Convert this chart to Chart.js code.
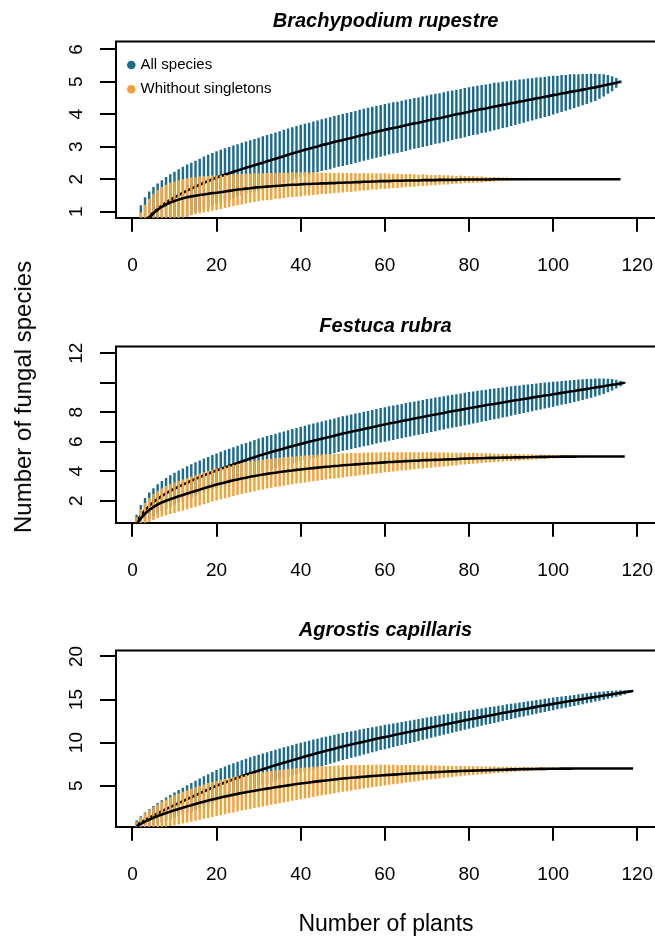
<!DOCTYPE html>
<html>
<head>
<meta charset="utf-8">
<script src="https://cdn.jsdelivr.net/npm/chart.js@4.4.1/dist/chart.umd.min.js"></script>
<style>
  body { margin: 0; background: #fff; width: 655px; height: 938px; overflow: hidden; position: relative;
         font-family: "Liberation Sans", Arial, sans-serif; color: #000; }
  .panel { position: absolute; left: 0; width: 655px; height: 305px; }
  #ytitle { position: absolute; left: 23px; top: 397px; transform: translate(-50%, -50%) rotate(-90deg);
            white-space: nowrap; font-size: 24px; }
  #xtitle { position: absolute; left: 386px; top: 923px; transform: translate(-50%, -50%);
            white-space: nowrap; font-size: 23px; }
</style>
</head>
<body>
<div class="panel" style="top:0px"><canvas id="c1"></canvas></div>
<div class="panel" style="top:305px"><canvas id="c2"></canvas></div>
<div class="panel" style="top:609px"><canvas id="c3"></canvas></div>
<div id="ytitle">Number of fungal species</div>
<div id="xtitle">Number of plants</div>
<script>
// tick labels
const xTicks = [0, 20, 40, 60, 80, 100, 120];
const brYTicks = [1, 2, 3, 4, 5, 6];
const frYTicks = [2, 4, 6, 8, 10, 12];
const frYLabels = [2, 4, 6, 8, 12];   // R dropped the "10" label
const acYTicks = [5, 10, 15, 20];

const legendNames = ['All species', 'Whithout singletons'];

// Brachypodium rupestre, 116 plants: mean richness and half-width of the bars
const brAllMean = [
  0.30,0.52,0.70,0.85,0.98,1.09,1.19,1.28,1.36,1.44,
  1.51,1.58,1.65,1.71,1.77,1.83,1.89,1.94,2.00,2.05,
  2.10,2.14,2.18,2.23,2.27,2.31,2.35,2.39,2.43,2.47,
  2.51,2.55,2.59,2.63,2.67,2.71,2.75,2.79,2.83,2.87,
  2.91,2.94,2.98,3.01,3.05,3.08,3.11,3.15,3.18,3.21,
  3.24,3.27,3.30,3.34,3.37,3.40,3.43,3.46,3.49,3.52,
  3.55,3.58,3.60,3.63,3.66,3.69,3.72,3.74,3.77,3.80,
  3.83,3.86,3.88,3.91,3.94,3.97,4.00,4.02,4.05,4.08,
  4.11,4.13,4.16,4.18,4.21,4.24,4.26,4.29,4.31,4.34,
  4.36,4.39,4.41,4.44,4.46,4.49,4.51,4.54,4.56,4.59,
  4.61,4.64,4.66,4.69,4.71,4.73,4.76,4.78,4.81,4.83,
  4.86,4.89,4.92,4.94,4.97,5.00];
const brAllCi = [
  0.45,0.68,0.74,0.77,0.78,0.78,0.78,0.79,0.79,0.79,
  0.80,0.80,0.80,0.80,0.80,0.80,0.81,0.81,0.81,0.81,
  0.81,0.81,0.81,0.81,0.81,0.81,0.81,0.81,0.81,0.81,
  0.81,0.81,0.81,0.81,0.81,0.81,0.81,0.81,0.81,0.81,
  0.80,0.80,0.80,0.80,0.80,0.80,0.80,0.80,0.80,0.80,
  0.80,0.80,0.80,0.80,0.80,0.80,0.80,0.80,0.80,0.80,
  0.79,0.79,0.79,0.79,0.79,0.78,0.78,0.78,0.78,0.78,
  0.78,0.77,0.77,0.77,0.77,0.76,0.76,0.76,0.76,0.75,
  0.75,0.75,0.74,0.74,0.73,0.73,0.72,0.71,0.71,0.70,
  0.69,0.68,0.67,0.66,0.65,0.64,0.63,0.62,0.61,0.60,
  0.58,0.57,0.55,0.54,0.52,0.50,0.48,0.46,0.44,0.42,
  0.38,0.34,0.29,0.23,0.15,0.04];
const brNsMean = [
  0.25,0.47,0.66,0.82,0.95,1.06,1.15,1.22,1.28,1.33,
  1.37,1.41,1.44,1.47,1.49,1.51,1.53,1.55,1.57,1.58,
  1.60,1.62,1.64,1.66,1.68,1.69,1.71,1.72,1.74,1.75,
  1.76,1.77,1.78,1.79,1.80,1.81,1.82,1.83,1.83,1.84,
  1.85,1.85,1.86,1.86,1.87,1.87,1.88,1.88,1.89,1.89,
  1.90,1.90,1.91,1.91,1.92,1.92,1.93,1.93,1.94,1.94,
  1.94,1.95,1.95,1.95,1.96,1.96,1.96,1.96,1.97,1.97,
  1.97,1.97,1.98,1.98,1.98,1.98,1.98,1.99,1.99,1.99,
  1.99,1.99,1.99,1.99,1.99,2.00,2.00,2.00,2.00,2.00,
  2.00,2.00,2.00,2.00,2.00,2.00,2.00,2.00,2.00,2.00,
  2.00,2.00,2.00,2.00,2.00,2.00,2.00,2.00,2.00,2.00,
  2.00,2.00,2.00,2.00,2.00,2.00];
const brNsCi = [
  0.43,0.50,0.55,0.58,0.60,0.61,0.61,0.61,0.61,0.60,
  0.60,0.59,0.59,0.58,0.57,0.57,0.56,0.55,0.54,0.53,
  0.52,0.51,0.50,0.49,0.48,0.47,0.46,0.45,0.44,0.43,
  0.42,0.42,0.41,0.40,0.40,0.39,0.38,0.38,0.37,0.37,
  0.36,0.35,0.35,0.34,0.33,0.33,0.32,0.31,0.31,0.30,
  0.29,0.29,0.28,0.27,0.27,0.26,0.25,0.25,0.24,0.24,
  0.23,0.22,0.22,0.21,0.20,0.20,0.19,0.18,0.18,0.17,
  0.16,0.16,0.15,0.14,0.14,0.13,0.12,0.12,0.11,0.10,
  0.10,0.09,0.09,0.08,0.07,0.07,0.06,0.05,0.05,0.04,
  0.04,0.03,0.03,0.02,0.02,0.02,0.01,0.01,0.01,0,
  0,0,0,0,0,0,0,0,0,0,
  0,0,0,0,0,0];

// Festuca rubra, 117 plants
const frAllMean = [
  0.55,1.00,1.36,1.65,1.90,2.12,2.32,2.50,2.66,2.81,
  2.95,3.09,3.22,3.35,3.48,3.60,3.72,3.83,3.94,4.05,
  4.16,4.26,4.36,4.46,4.56,4.66,4.76,4.86,4.95,5.05,
  5.13,5.22,5.30,5.38,5.46,5.54,5.62,5.70,5.77,5.85,
  5.92,5.99,6.06,6.13,6.20,6.27,6.34,6.41,6.48,6.55,
  6.61,6.67,6.74,6.80,6.86,6.92,6.98,7.05,7.11,7.17,
  7.23,7.28,7.34,7.40,7.46,7.51,7.57,7.63,7.68,7.74,
  7.79,7.85,7.90,7.95,8.01,8.06,8.11,8.16,8.22,8.27,
  8.32,8.37,8.42,8.47,8.52,8.56,8.61,8.66,8.71,8.76,
  8.81,8.85,8.90,8.94,8.99,9.04,9.08,9.13,9.17,9.22,
  9.26,9.31,9.35,9.40,9.44,9.49,9.53,9.58,9.62,9.67,
  9.72,9.76,9.81,9.86,9.90,9.95,10.00];
const frAllCi = [
  0.50,0.70,0.82,0.90,0.95,0.99,1.02,1.04,1.06,1.08,
  1.09,1.10,1.11,1.12,1.13,1.13,1.14,1.14,1.15,1.15,
  1.16,1.16,1.16,1.16,1.16,1.16,1.16,1.16,1.16,1.16,
  1.16,1.16,1.16,1.16,1.16,1.16,1.16,1.16,1.16,1.16,
  1.17,1.17,1.17,1.17,1.17,1.17,1.17,1.17,1.17,1.17,
  1.17,1.17,1.17,1.17,1.17,1.17,1.17,1.17,1.17,1.17,
  1.17,1.17,1.16,1.16,1.16,1.16,1.15,1.15,1.15,1.15,
  1.14,1.14,1.13,1.13,1.12,1.12,1.11,1.11,1.10,1.10,
  1.09,1.08,1.07,1.06,1.05,1.04,1.03,1.02,1.01,1.00,
  0.99,0.97,0.96,0.94,0.93,0.91,0.90,0.88,0.87,0.85,
  0.83,0.81,0.79,0.77,0.75,0.73,0.70,0.67,0.64,0.61,
  0.57,0.52,0.46,0.39,0.30,0.19,0.05];
const frNsMean = [
  0.42,0.80,1.11,1.36,1.57,1.74,1.88,2.00,2.10,2.20,
  2.30,2.39,2.48,2.57,2.66,2.75,2.84,2.93,3.02,3.10,
  3.17,3.24,3.31,3.38,3.44,3.50,3.56,3.62,3.67,3.72,
  3.77,3.82,3.86,3.90,3.94,3.98,4.02,4.05,4.09,4.12,
  4.15,4.18,4.21,4.24,4.27,4.30,4.32,4.35,4.37,4.40,
  4.42,4.44,4.46,4.48,4.50,4.52,4.54,4.56,4.58,4.60,
  4.62,4.63,4.65,4.66,4.68,4.69,4.71,4.72,4.74,4.75,
  4.76,4.77,4.78,4.79,4.80,4.81,4.82,4.84,4.85,4.86,
  4.87,4.88,4.88,4.89,4.90,4.90,4.91,4.92,4.92,4.93,
  4.94,4.94,4.95,4.95,4.96,4.96,4.97,4.97,4.98,4.98,
  4.98,4.99,4.99,4.99,4.99,5.00,5.00,5.00,5.00,5.00,
  5.00,5.00,5.00,5.00,5.00,5.00,5.00];
const frNsCi = [
  0.45,0.62,0.74,0.82,0.88,0.92,0.96,0.99,1.01,1.03,
  1.04,1.05,1.06,1.07,1.07,1.08,1.08,1.08,1.08,1.08,
  1.08,1.07,1.07,1.06,1.06,1.05,1.04,1.04,1.03,1.02,
  1.01,1.00,0.99,0.98,0.97,0.96,0.95,0.94,0.93,0.92,
  0.91,0.90,0.89,0.88,0.87,0.86,0.85,0.84,0.83,0.82,
  0.80,0.79,0.78,0.76,0.75,0.74,0.72,0.71,0.70,0.68,
  0.67,0.65,0.64,0.62,0.61,0.59,0.58,0.56,0.55,0.53,
  0.52,0.50,0.49,0.47,0.46,0.44,0.43,0.41,0.40,0.38,
  0.37,0.35,0.34,0.32,0.31,0.29,0.28,0.27,0.25,0.24,
  0.23,0.21,0.20,0.19,0.17,0.16,0.15,0.14,0.13,0.12,
  0.11,0.10,0.09,0.08,0.07,0.06,0.05,0.04,0.03,0.03,
  0.02,0.02,0.01,0.01,0,0,0];

// Agrostis capillaris, 119 plants
const acAllMean = [
  0.45,0.73,1.00,1.27,1.53,1.79,2.04,2.28,2.52,2.75,
  2.98,3.21,3.44,3.66,3.89,4.11,4.34,4.56,4.78,5.00,
  5.19,5.38,5.56,5.74,5.92,6.09,6.26,6.43,6.59,6.75,
  6.91,7.06,7.22,7.37,7.52,7.67,7.82,7.96,8.11,8.25,
  8.39,8.52,8.66,8.79,8.92,9.05,9.18,9.30,9.43,9.55,
  9.67,9.78,9.89,10.00,10.11,10.22,10.33,10.44,10.55,10.65,
  10.75,10.86,10.96,11.06,11.17,11.27,11.37,11.47,11.58,11.68,
  11.78,11.88,11.98,12.08,12.18,12.28,12.38,12.48,12.58,12.68,
  12.77,12.87,12.96,13.06,13.15,13.24,13.34,13.43,13.53,13.62,
  13.71,13.80,13.88,13.97,14.06,14.15,14.24,14.32,14.41,14.50,
  14.58,14.66,14.74,14.82,14.90,14.98,15.06,15.14,15.22,15.30,
  15.38,15.46,15.53,15.61,15.69,15.77,15.84,15.92,16.00];
const acAllCi = [
  0.50,0.72,0.88,1.00,1.10,1.19,1.27,1.34,1.40,1.46,
  1.51,1.56,1.61,1.65,1.69,1.72,1.75,1.78,1.80,1.82,
  1.84,1.85,1.86,1.87,1.87,1.87,1.87,1.86,1.86,1.85,
  1.84,1.83,1.82,1.81,1.80,1.79,1.77,1.76,1.75,1.73,
  1.72,1.70,1.69,1.67,1.66,1.64,1.62,1.61,1.59,1.57,
  1.56,1.54,1.52,1.51,1.49,1.47,1.46,1.44,1.42,1.41,
  1.39,1.37,1.35,1.34,1.32,1.30,1.29,1.27,1.25,1.24,
  1.22,1.20,1.18,1.17,1.15,1.13,1.12,1.10,1.08,1.06,
  1.05,1.03,1.01,0.99,0.98,0.96,0.94,0.92,0.91,0.89,
  0.87,0.86,0.84,0.82,0.81,0.79,0.77,0.76,0.74,0.73,
  0.71,0.69,0.68,0.66,0.64,0.62,0.60,0.58,0.56,0.54,
  0.51,0.48,0.45,0.41,0.37,0.32,0.25,0.16,0.04];
const acNsMean = [
  0.30,0.58,0.84,1.07,1.28,1.47,1.65,1.82,1.99,2.15,
  2.30,2.45,2.60,2.74,2.88,3.02,3.15,3.28,3.40,3.52,
  3.63,3.74,3.85,3.95,4.05,4.15,4.24,4.33,4.42,4.50,
  4.58,4.66,4.74,4.82,4.89,4.96,5.04,5.11,5.19,5.26,
  5.32,5.38,5.44,5.50,5.56,5.61,5.67,5.72,5.78,5.83,
  5.87,5.92,5.96,6.00,6.04,6.08,6.12,6.16,6.19,6.23,
  6.26,6.29,6.32,6.35,6.38,6.41,6.44,6.47,6.50,6.53,
  6.55,6.57,6.59,6.62,6.64,6.66,6.68,6.70,6.72,6.74,
  6.75,6.77,6.78,6.80,6.81,6.83,6.84,6.86,6.87,6.89,
  6.90,6.91,6.92,6.92,6.93,6.94,6.95,6.95,6.96,6.97,
  6.97,6.98,6.98,6.98,6.99,6.99,6.99,7.00,7.00,7.00,
  7.00,7.00,7.00,7.00,7.00,7.00,7.00,7.00,7.00];
const acNsCi = [
  0.50,0.75,0.95,1.12,1.26,1.38,1.49,1.58,1.66,1.73,
  1.79,1.84,1.88,1.92,1.95,1.98,2.00,2.02,2.03,2.04,
  2.05,2.05,2.05,2.05,2.04,2.04,2.03,2.02,2.01,2.00,
  1.99,1.98,1.96,1.95,1.93,1.91,1.89,1.87,1.85,1.83,
  1.80,1.77,1.75,1.72,1.69,1.66,1.63,1.60,1.57,1.54,
  1.50,1.47,1.44,1.40,1.37,1.34,1.30,1.27,1.23,1.20,
  1.16,1.13,1.09,1.06,1.02,0.99,0.95,0.92,0.88,0.85,
  0.81,0.78,0.75,0.71,0.68,0.65,0.62,0.59,0.56,0.53,
  0.50,0.48,0.45,0.43,0.41,0.39,0.37,0.35,0.33,0.31,
  0.29,0.27,0.25,0.23,0.21,0.19,0.18,0.16,0.15,0.13,
  0.12,0.11,0.10,0.09,0.08,0.07,0.06,0.05,0.04,0.03,
  0.03,0.02,0.02,0.01,0.01,0,0,0,0];

const FONT = '"Liberation Sans", Arial, sans-serif';
const BLUE = '#1c6d8d';
const ORANGE = '#f3a233';
const PANEL_H = 305;
const BOX_BOTTOM = 217.8;

Chart.defaults.font.family = FONT;

// top line of the R box, rotated y labels and the small legend
const rBox = {
  id: 'rBox',
  afterDraw(chart, args, opts) {
    const { ctx, chartArea: a } = chart;
    const y = chart.scales.y;
    ctx.save();
    ctx.strokeStyle = '#000';
    ctx.lineWidth = 2;
    ctx.beginPath();
    ctx.moveTo(a.left - 1, a.top);
    ctx.lineTo(a.right, a.top);
    ctx.stroke();

    ctx.fillStyle = '#000';
    ctx.font = '19px ' + FONT;
    ctx.textAlign = 'center';
    ctx.textBaseline = 'alphabetic';
    opts.yLabels.forEach(v => {
      ctx.save();
      ctx.translate(82, y.getPixelForValue(v));
      ctx.rotate(-Math.PI / 2);
      ctx.fillText(String(v), 0, 0);
      ctx.restore();
    });

    if (opts.legend) {
      [BLUE, ORANGE].forEach((col, i) => {
        const cy = a.top + 23.4 + i * 24.3;
        ctx.fillStyle = col;
        ctx.beginPath();
        ctx.arc(a.left + 15.3, cy, 4.3, 0, Math.PI * 2);
        ctx.fill();
        ctx.fillStyle = '#000';
        ctx.font = '15px ' + FONT;
        ctx.textAlign = 'left';
        ctx.textBaseline = 'middle';
        ctx.fillText(legendNames[i], a.left + 24.5, cy);
      });
    }
    ctx.restore();
  }
};

function barData(mean, ci) {
  return mean.map((m, i) => ({ x: i + 1, y: [m - ci[i], m + ci[i]] }));
}
function lineData(mean) {
  return mean.map((m, i) => ({ x: i + 1, y: m }));
}

function makePanel(id, title, allMean, allCi, nsMean, nsCi, yMin, yMax, yTicks, yLabels, legend) {
  const barOpts = { type: 'bar', grouped: false, categoryPercentage: 1, barPercentage: 0.58, borderWidth: 0 };
  const lineOpts = { type: 'line', borderColor: '#000', borderWidth: 2.6, pointRadius: 0, tension: 0 };
  new Chart(document.getElementById(id), {
    type: 'line',
    data: {
      datasets: [
        { ...barOpts, data: barData(allMean, allCi), backgroundColor: BLUE, order: 4 },
        { ...lineOpts, data: lineData(allMean), order: 3 },
        { ...barOpts, data: barData(nsMean, nsCi), backgroundColor: ORANGE, order: 2 },
        { ...lineOpts, data: lineData(nsMean), order: 1 }
      ]
    },
    options: {
      responsive: true,
      maintainAspectRatio: false,
      animation: false,
      layout: { padding: 0 },
      plugins: {
        legend: { display: false },
        tooltip: { enabled: false },
        title: {
          display: true, text: title, fullSize: false, color: '#000',
          font: { family: FONT, size: 20, weight: 'bold', style: 'italic' },
          padding: { top: 9.0, bottom: 8.6 }
        },
        rBox: { yLabels: yLabels, legend: legend }
      },
      scales: {
        x: {
          type: 'linear', min: -3.9, max: 124.2, offset: false,
          afterBuildTicks: s => { s.ticks = xTicks.map(v => ({ value: v })); },
          afterFit: s => { s.height = PANEL_H - BOX_BOTTOM; s.paddingLeft = 0; s.paddingRight = 0; },
          grid: { display: true, drawOnChartArea: false, drawTicks: true, tickLength: 14,
                  color: '#000', lineWidth: 2, offset: false },
          border: { display: true, color: '#000', width: 2 },
          ticks: { color: '#000', font: { family: FONT, size: 19 }, padding: 23,
                   maxRotation: 0, autoSkip: false }
        },
        y: {
          type: 'linear', min: yMin, max: yMax,
          afterBuildTicks: s => { s.ticks = yTicks.map(v => ({ value: v })); },
          afterFit: s => { s.width = 116; s.paddingTop = 0; s.paddingBottom = 0; },
          grid: { display: true, drawOnChartArea: false, drawTicks: true, tickLength: 16,
                  color: '#000', lineWidth: 2 },
          border: { display: true, color: '#000', width: 2 },
          ticks: { display: false }
        }
      }
    },
    plugins: [rBox]
  });
}

makePanel('c1', 'Brachypodium rupestre', brAllMean, brAllCi, brNsMean, brNsCi, 0.81, 6.24, brYTicks, brYTicks, true);
makePanel('c2', 'Festuca rubra', frAllMean, frAllCi, frNsMean, frNsCi, 0.50, 12.45, frYTicks, frYLabels, false);
makePanel('c3', 'Agrostis capillaris', acAllMean, acAllCi, acNsMean, acNsCi, 0.23, 20.68, acYTicks, acYTicks, false);
</script>
</body>
</html>
